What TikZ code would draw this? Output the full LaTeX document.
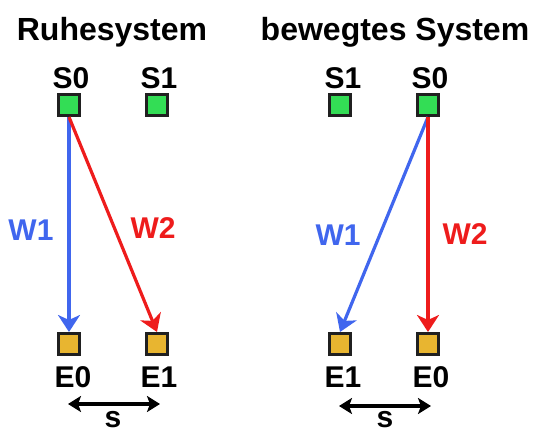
\documentclass[tikz,border=0pt]{standalone}
\usepackage{fontspec}
\setmainfont{Liberation Sans}
\usetikzlibrary{arrows.meta}
\definecolor{sgreen}{HTML}{33DD55}
\definecolor{eorange}{HTML}{E8B530}
\definecolor{wblue}{HTML}{4066EE}
\definecolor{wred}{HTML}{EE1C1C}
\definecolor{edge}{HTML}{202020}
\tikzset{
  sbox/.style={draw=edge, line width=3pt, fill=sgreen, minimum size=21pt, inner sep=0pt},
  ebox/.style={draw=edge, line width=3pt, fill=eorange, minimum size=21pt, inner sep=0pt},
  lbl/.style={font=\fontsize{30}{30}\selectfont\bfseries, anchor=base, inner sep=0pt},
  ttl/.style={font=\fontsize{32}{32}\selectfont\bfseries, anchor=base, inner sep=0pt},
  warrow/.style={line width=3.2pt, -{Stealth[length=17pt,width=22pt,inset=5pt]}},
  sarrow/.style={line width=3.4pt, {Stealth[length=13pt,width=16pt,inset=3pt]}-{Stealth[length=13pt,width=16pt,inset=3pt]}},
}
\begin{document}
\begin{tikzpicture}[x=1pt,y=-1pt]
\useasboundingbox (0,0) rectangle (533,432);
% titles
\node[ttl] (t1) at (112,40) {Ruhesystem};
\node[ttl] (t2) at (395,40) {bewegtes System};
% left system
\node[sbox] (S0a) at (69,105) {};
\node[sbox] (S1a) at (157,105) {};
\node[ebox] (E0a) at (69,344) {};
\node[ebox] (E1a) at (157,344) {};
\node[lbl] (lS0a) at (71,88) {S0};
\node[lbl] (lS1a) at (159,88) {S1};
\node[lbl] (lE0a) at (73,387) {E0};
\node[lbl] (lE1a) at (159,387) {E1};
\draw[warrow, wblue] (S0a.south) -- (E0a.north);
\draw[warrow, wred] (S0a.south) -- (E1a.north);
\node[lbl, text=wblue] (W1a) at (31,240) {W1};
\node[lbl, text=wred] (W2a) at (153,238) {W2};
\coordinate (sa1) at (68,404);
\coordinate (sa2) at (160,404);
\draw[sarrow] (sa1) -- (sa2);
\node[lbl] (sa) at (113,427) {s};
% right system
\node[sbox] (S1b) at (340,105) {};
\node[sbox] (S0b) at (428,105) {};
\node[ebox] (E1b) at (340,344) {};
\node[ebox] (E0b) at (428,344) {};
\node[lbl] (lS1b) at (343,88) {S1};
\node[lbl] (lS0b) at (430,88) {S0};
\node[lbl] (lE1b) at (343,387) {E1};
\node[lbl] (lE0b) at (431,387) {E0};
\draw[warrow, wblue] (S0b.south) -- (E1b.north);
\draw[warrow, wred] (S0b.south) -- (E0b.north);
\node[lbl, text=wblue] (W1b) at (338,245) {W1};
\node[lbl, text=wred] (W2b) at (465,244) {W2};
\coordinate (sb1) at (339,406);
\coordinate (sb2) at (431,406);
\draw[sarrow] (sb1) -- (sb2);
\node[lbl] (sb) at (385,427) {s};
\end{tikzpicture}
\end{document}
